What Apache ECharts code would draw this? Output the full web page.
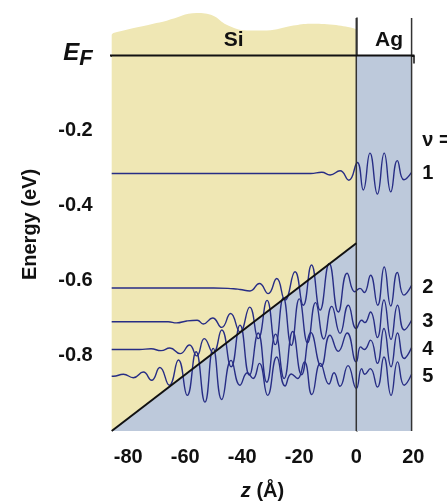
<!DOCTYPE html>
<html>
<head>
<meta charset="utf-8">
<script src="https://cdn.jsdelivr.net/npm/echarts@6/dist/echarts.min.js"></script>
<style>
html, body { margin: 0; padding: 0; background: #fff; }
#chart { width: 447px; height: 502px; }
</style>
</head>
<body>
<div id="chart"></div>
<script>
// axis ticks
const zTicks = [-80, -60, -40, -20, 0, 20]
const energyTicks = [0, -0.2, -0.4, -0.6, -0.8]

// labels on the right: nu = and the level numbers
const levelNames = ['ν =', '1', '2', '3', '4', '5']
const levelLabelEnergies = [-0.225, -0.313, -0.619, -0.709, -0.783, -0.854]

// region names
const regionNames = ['Si', 'Ag']
const regionLabelPos = [[-43, 0.042], [11.5, 0.042]]

// top edge of the Si slab (wavy)
const siTop = [[-85.8, 0.055], [-85.2, 0.06], [-75.9, 0.077], [-66.5, 0.093], [-56, 0.113], [-50.2, 0.106],
    [-45.5, 0.082], [-38.5, 0.067], [-31.4, 0.067], [-22.1, 0.08], [-16.2, 0.085], [-8.1, 0.082],
    [-1, 0.073], [0, 0.07]]
// band edge in Si, then Ag filled up to E_F
const bandEdge = [[-85.8, -1], [0, -0.5]]
const blueRegion = [[-85.8, -1], [0, -0.5], [0, 0], [19.4, 0]]
const fermiLine = [[-88.2, 0], [20.4, 0]]
const interfaceLine = [[0, -1], [0, 0.1]]
const agEdgeLine = [[19.4, -1], [19.4, 0.1]]

// quantum well states (extrema)
const wave1 = [[-85.8, -0.314], [-30, -0.314], [-16, -0.314], [-12.1, -0.311], [-9.2, -0.318], [-5.7, -0.307],
    [-2.6, -0.332], [0.35, -0.285], [2.45, -0.358], [4.8, -0.26], [7.4, -0.369], [9.8, -0.26], [12.1, -0.363],
    [14.4, -0.28], [16.7, -0.331], [19.4, -0.311]]
const wave2 = [[-85.8, -0.619], [-50, -0.619], [-43.1, -0.621], [-40.8, -0.623], [-37.3, -0.627], [-34, -0.607],
    [-30.9, -0.634], [-27.9, -0.594], [-25, -0.651], [-21.5, -0.576], [-18.6, -0.665], [-15.7, -0.558],
    [-12.7, -0.678], [-9.5, -0.554], [-6.3, -0.683], [-3.2, -0.58], [-0.5, -0.629], [1.3, -0.62], [2.8, -0.631],
    [5, -0.585], [7.5, -0.665], [9.8, -0.563], [12.1, -0.667], [14.4, -0.578], [16.7, -0.638], [19.4, -0.612]]
const wave3 = [[-85.8, -0.709], [-66, -0.709], [-63, -0.712], [-59.5, -0.707], [-55.8, -0.705], [-53.7, -0.715],
    [-50.4, -0.699], [-47.2, -0.724], [-44.1, -0.687], [-40.8, -0.736], [-37.4, -0.67], [-34.4, -0.754],
    [-31.3, -0.652], [-28.4, -0.77], [-25.6, -0.645], [-22.8, -0.772], [-20, -0.648], [-17.1, -0.765],
    [-14.3, -0.658], [-11.4, -0.755], [-8.6, -0.668], [-5.7, -0.74], [-2.8, -0.665], [0, -0.727], [1.9, -0.705],
    [3, -0.711], [5, -0.683], [7.4, -0.751], [9.7, -0.651], [12.2, -0.756], [14.5, -0.665], [16.8, -0.731],
    [19.4, -0.705]]
const wave4 = [[-85.8, -0.783], [-76, -0.783], [-72, -0.781], [-68.5, -0.786], [-65.4, -0.779], [-61.8, -0.794],
    [-58.5, -0.771], [-56, -0.8], [-53.3, -0.754], [-50.2, -0.792], [-47.2, -0.731], [-43.9, -0.829],
    [-40.8, -0.718], [-37.5, -0.851], [-34.4, -0.739], [-31.4, -0.87], [-28.3, -0.742], [-25.3, -0.86],
    [-22.3, -0.735], [-19.2, -0.85], [-15.9, -0.738], [-12.3, -0.828], [-9.2, -0.745], [-6.3, -0.788],
    [-3.2, -0.739], [0, -0.816], [1.5, -0.776], [2.8, -0.783], [5, -0.758], [7.4, -0.82], [9.7, -0.727],
    [12.2, -0.829], [14.5, -0.739], [16.8, -0.807], [19.4, -0.778]]
const wave5 = [[-85.8, -0.854], [-85.2, -0.854], [-81.7, -0.849], [-78.2, -0.858], [-74.7, -0.843], [-71.8, -0.865],
    [-68.9, -0.831], [-65.6, -0.878], [-62.4, -0.811], [-59.3, -0.905], [-56.2, -0.789], [-53.1, -0.923],
    [-50.2, -0.78], [-47.2, -0.916], [-43.9, -0.812], [-40.8, -0.878], [-38.2, -0.845], [-36.2, -0.86],
    [-34, -0.82], [-31.1, -0.905], [-27.9, -0.803], [-25, -0.88], [-22.8, -0.848], [-20.6, -0.86],
    [-18.2, -0.816], [-15.6, -0.903], [-12.6, -0.82], [-9.6, -0.875], [-7.8, -0.845], [-5.7, -0.881],
    [-2.9, -0.826], [0, -0.887], [1.9, -0.834], [3, -0.849], [4.9, -0.834], [7.4, -0.883], [9.7, -0.803],
    [12.2, -0.905], [14.5, -0.816], [16.8, -0.878], [19.4, -0.849]]

const waves = [wave1, wave2, wave3, wave4, wave5]

const font = 'Liberation Sans'
const waveColor = '#272d85'

function straight(data, color, width) {
    return {
        type: 'line',
        data: data,
        symbol: 'none',
        silent: true,
        clip: false,
        lineStyle: { color: color, width: width },
        z: 5
    }
}

const series = [
    {
        type: 'line',
        data: siTop,
        smooth: 0.4,
        symbol: 'none',
        silent: true,
        clip: false,
        lineStyle: { width: 0 },
        areaStyle: { color: '#efe7b4', opacity: 1, origin: 'start' },
        z: 1
    },
    {
        type: 'line',
        data: blueRegion,
        symbol: 'none',
        silent: true,
        lineStyle: { width: 0 },
        areaStyle: { color: '#bdc9db', opacity: 1, origin: 'start' },
        z: 2
    }
]

waves.forEach(w => {
    series.push({
        type: 'line',
        data: w,
        smooth: 0.5,
        symbol: 'none',
        silent: true,
        lineStyle: { color: waveColor, width: 1.4 },
        z: 3
    })
})

series.push(straight(interfaceLine, '#333', 1.5))
series.push(straight(agEdgeLine, '#333', 1.5))
series.push(straight(bandEdge, '#111', 2))
series.push(straight(fermiLine, '#111', 2))

series.push({
    type: 'scatter',
    data: regionLabelPos.map((p, i) => ({ value: p, name: regionNames[i] })),
    symbolSize: 1,
    itemStyle: { opacity: 0 },
    silent: true,
    label: {
        show: true,
        position: 'inside',
        formatter: p => p.name,
        fontFamily: font,
        fontWeight: 'bold',
        fontSize: 21,
        color: '#111',
        opacity: 1,
        textBorderWidth: 0
    },
    z: 6
})

const chart = echarts.init(document.getElementById('chart'))
chart.setOption({
    animation: false,
    backgroundColor: '#fff',
    grid: { left: 111.7, right: 33.7, top: 18, bottom: 71, outerBoundsMode: 'none', containLabel: false },
    xAxis: {
        type: 'value',
        min: -85.8,
        max: 20,
        name: '{i|z} (Å)',
        nameLocation: 'middle',
        nameGap: 50,
        nameTextStyle: {
            fontFamily: font, fontWeight: 'bold', fontSize: 20, color: '#111',
            rich: { i: { fontFamily: font, fontWeight: 'bold', fontStyle: 'italic', fontSize: 20, color: '#111' } }
        },
        splitLine: { show: false },
        axisLine: { lineStyle: { color: '#111', width: 2 } },
        axisTick: { customValues: zTicks, length: 8, lineStyle: { color: '#111', width: 1.5 } },
        axisLabel: {
            customValues: zTicks,
            margin: 16,
            fontFamily: font, fontWeight: 'bold', fontSize: 20, color: '#111'
        }
    },
    yAxis: [
        {
            type: 'value',
            min: -1,
            max: 0.1,
            name: 'Energy (eV)',
            nameLocation: 'middle',
            nameGap: 71,
            nameTextStyle: { fontFamily: font, fontWeight: 'bold', fontSize: 20, color: '#111' },
            splitLine: { show: false },
            axisLine: { lineStyle: { color: '#333', width: 1.5 } },
            axisTick: { customValues: energyTicks, length: 6, lineStyle: { color: '#333', width: 1.5 } },
            axisLabel: {
                customValues: energyTicks,
                margin: 19,
                fontFamily: font, fontWeight: 'bold', fontSize: 20, color: '#111',
                formatter: v => v === 0 ? '{e|E}{f|F}' : v.toFixed(1),
                rich: {
                    e: { fontFamily: font, fontWeight: 'bold', fontStyle: 'italic', fontSize: 24, color: '#111', verticalAlign: 'top', lineHeight: 28 },
                    f: { fontFamily: font, fontWeight: 'bold', fontStyle: 'italic', fontSize: 22, color: '#111', verticalAlign: 'bottom', lineHeight: 28 }
                }
            }
        },
        {
            type: 'value',
            position: 'right',
            min: -1,
            max: 0.1,
            splitLine: { show: false },
            axisLine: { show: false },
            axisTick: { show: false },
            axisLabel: {
                customValues: levelLabelEnergies,
                margin: 9,
                fontFamily: font, fontWeight: 'bold', fontSize: 20, color: '#111',
                formatter: v => levelNames[levelLabelEnergies.indexOf(v)]
            }
        }
    ],
    series: series
})
</script>
</body>
</html>
